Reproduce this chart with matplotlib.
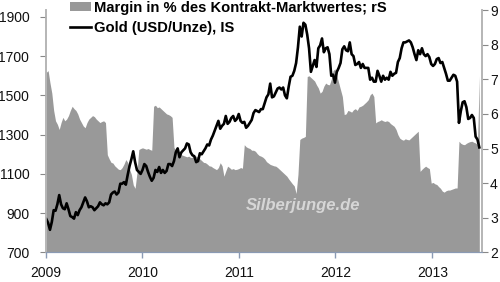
import numpy as np
import pandas as pd
import matplotlib
matplotlib.use("Agg")
import matplotlib.pyplot as plt
import matplotlib.dates as mdates
from matplotlib.patches import Patch
from matplotlib.lines import Line2D

plt.rcParams['font.family'] = ['Liberation Sans', 'DejaVu Sans']

# weekly closes, first week of 2009 to end of June 2013
gold = [
    870, 850, 815, 855, 915, 912, 945, 992, 945, 925,
    920, 950, 920, 885, 880, 872, 905, 890, 915, 930,
    955, 980, 960, 930, 935, 930, 915, 925, 935, 955,
    945, 940, 950, 945, 955, 995, 1005, 1010, 995, 1005,
    1050, 1050, 1058, 1045, 1095, 1140, 1175, 1215, 1160, 1120,
    1110, 1100, 1120, 1150, 1140, 1110, 1085, 1065, 1080, 1120,
    1110, 1135, 1105, 1120, 1105, 1115, 1150, 1150, 1140, 1165,
    1210, 1230, 1185, 1210, 1220, 1230, 1255, 1250, 1210, 1195,
    1190, 1160, 1165, 1205, 1200, 1215, 1230, 1250, 1245, 1275,
    1295, 1320, 1345, 1370, 1330, 1345, 1355, 1395, 1355, 1365,
    1385, 1395, 1370, 1380, 1405, 1370, 1360, 1365, 1335, 1345,
    1360, 1375, 1410, 1425, 1420, 1415, 1430, 1430, 1460, 1490,
    1505, 1560, 1490, 1495, 1515, 1535, 1540, 1530, 1540, 1500,
    1485, 1545, 1595, 1600, 1625, 1665, 1745, 1850, 1800, 1870,
    1860, 1810, 1740, 1620, 1650, 1680, 1645, 1740, 1755, 1790,
    1720, 1740, 1745, 1710, 1600, 1605, 1565, 1620, 1640, 1665,
    1735, 1750, 1730, 1725, 1770, 1710, 1700, 1655, 1660, 1670,
    1640, 1660, 1640, 1640, 1640, 1580, 1590, 1570, 1570, 1625,
    1600, 1570, 1600, 1580, 1590, 1580, 1620, 1600, 1610, 1615,
    1670, 1690, 1740, 1770, 1770, 1775, 1780, 1770, 1745, 1710,
    1680, 1730, 1710, 1740, 1710, 1700, 1710, 1695, 1660, 1650,
    1660, 1685, 1690, 1665, 1670, 1640, 1610, 1575, 1575, 1590,
    1605, 1600, 1570, 1360, 1420, 1465, 1470, 1440, 1380, 1385,
    1400, 1385, 1290, 1275, 1235,
]

# margin in % of contract value (right scale)
margin = [
    7.2, 7.25, 6.9, 6.6, 6.1, 5.8, 5.7, 5.55, 5.75, 5.9,
    5.8, 5.85, 5.95, 6.1, 6.22, 6.15, 6.1, 6.0, 5.85, 5.75,
    5.65, 5.6, 5.75, 5.85, 5.9, 5.95, 5.92, 5.85, 5.8, 5.75,
    5.78, 5.8, 5.75, 4.82, 4.7, 4.6, 4.58, 4.5, 4.45, 4.4,
    4.39, 4.45, 4.55, 4.68, 4.6, 4.4, 4.25, 3.95, 3.85, 4.3,
    4.97, 5.0, 5.02, 5.0, 4.98, 5.0, 4.97, 4.95, 6.22, 6.25,
    6.18, 6.2, 6.15, 6.1, 6.05, 6.0, 5.98, 5.95, 5.9, 5.03,
    4.95, 4.88, 4.85, 4.82, 4.8, 4.78, 4.76, 4.78, 4.74, 4.75,
    4.78, 4.78, 4.75, 4.7, 4.65, 4.6, 4.59, 4.55, 4.5, 4.49,
    4.45, 4.42, 4.39, 4.45, 4.59, 4.5, 4.2, 4.35, 4.49, 4.45,
    4.4, 4.42, 4.39, 4.4, 4.42, 4.45, 4.43, 5.11, 5.05, 5.02,
    5.0, 4.95, 4.95, 4.92, 4.85, 4.8, 4.78, 4.75, 4.7, 4.62,
    4.58, 4.54, 4.52, 4.5, 4.49, 4.45, 4.4, 4.35, 4.3, 4.25,
    4.2, 4.12, 4.05, 3.98, 3.92, 3.7, 4.25, 5.26, 5.3, 5.32,
    5.35, 7.08, 7.1, 7.05, 7.0, 6.95, 6.84, 6.75, 6.6, 6.65,
    6.8, 6.89, 6.85, 6.84, 7.0, 7.25, 7.3, 7.1, 6.9, 6.7,
    6.5, 5.98, 6.0, 6.1, 6.08, 6.05, 6.12, 6.15, 6.1, 6.2,
    6.22, 6.25, 6.3, 6.35, 6.41, 6.55, 6.6, 6.5, 5.74, 5.78,
    5.8, 5.83, 5.8, 5.78, 5.8, 5.78, 5.72, 5.68, 5.64, 5.55,
    5.4, 5.3, 5.26, 5.24, 5.28, 5.26, 5.25, 5.3, 5.35, 5.4,
    5.45, 5.5, 4.34, 4.4, 4.45, 4.49, 4.45, 4.42, 4.0, 4.02,
    3.98, 3.96, 3.9, 3.85, 3.77, 3.74, 3.78, 3.8, 3.8, 3.82,
    3.84, 3.86, 3.86, 5.21, 5.15, 5.12, 5.11, 5.15, 5.18, 5.2,
    5.21, 5.18, 5.16, 5.11, 7.1,
]

dates = pd.date_range('2009-01-02', periods=len(gold), freq='7D')
gold_ticks = [700, 900, 1100, 1300, 1500, 1700, 1900]
margin_ticks = [2, 3, 4, 5, 6, 7, 8, 9]

fig = plt.figure(figsize=(5, 2.82), dpi=100)
ax = fig.add_axes([0.092, 0.105, 0.8714, 0.8595])   # margin, right scale
ax2 = ax.twinx()                                    # gold, left scale

ax.fill_between(dates, 2, margin, color='#999999', lw=0)
ax2.plot(dates, gold, color='black', lw=1.9)

ax.set_xlim(pd.Timestamp('2009-01-01'), pd.Timestamp('2013-07-07'))
ax.set_ylim(2, 9)
ax2.set_ylim(700, 1935)

ax.xaxis.set_major_locator(mdates.YearLocator())
ax.xaxis.set_major_formatter(mdates.DateFormatter('%Y'))

ax.yaxis.tick_right()
ax.set_yticks(margin_ticks)
ax2.yaxis.tick_left()
ax2.set_yticks(gold_ticks)

for a in (ax, ax2):
    a.spines['top'].set_visible(False)
    a.spines['left'].set_color('#b5b5b5')
    a.spines['right'].set_color('#b5b5b5')
    a.spines['left'].set_linewidth(1.2)
    a.spines['right'].set_linewidth(1.2)
    a.spines['bottom'].set_color('#8a9ab4')

ax.tick_params(axis='x', colors='#8a9ab4', length=4, width=1, pad=6,
               labelcolor='#111111', labelsize=10)
ax.tick_params(axis='y', colors='#888888', length=4, width=0.8, pad=2,
               labelcolor='#111111', labelsize=10)
ax2.tick_params(axis='y', colors='#888888', length=4, width=0.8, pad=8,
                labelcolor='#111111', labelsize=10)

ax.text(0.459, 0.174, 'Silberjunge.de', transform=ax.transAxes,
        fontsize=12, fontweight='bold', fontstyle='italic', color='#d6d6d6',
        ha='left', va='baseline')

handles = [Patch(facecolor='#999999', edgecolor='none'),
           Line2D([], [], color='black', lw=1.9)]
labels = ['Margin in % des Kontrakt-Marktwertes; rS', 'Gold (USD/Unze), IS']
ax2.legend(handles, labels, loc='upper left', bbox_to_anchor=(70 / 500, 0.997),
           bbox_transform=fig.transFigure, frameon=False, borderpad=0,
           borderaxespad=0, handlelength=1.4, handleheight=0.55,
           handletextpad=0.2, labelspacing=0.4,
           prop={'size': 10.6, 'weight': 'bold'})

fig.savefig('out.png', dpi=100)
